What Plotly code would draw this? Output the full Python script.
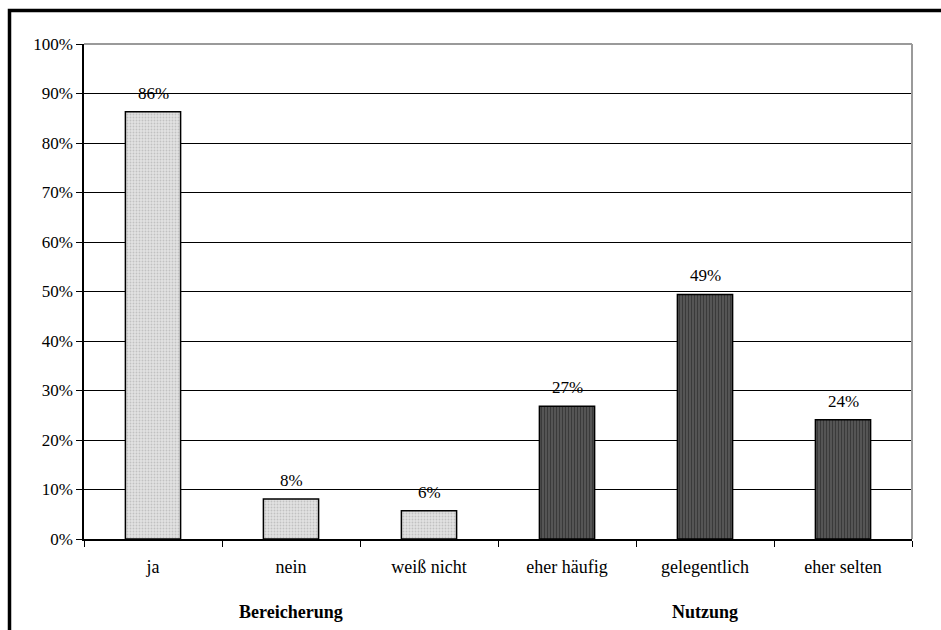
import plotly.graph_objects as go

# Survey results: two question groups shown side by side
categories = ["ja", "nein", "weiß nicht", "eher häufig", "gelegentlich", "eher selten"]
shares = [86.3, 8.1, 5.7, 26.8, 49.4, 24.1]
groups = ["Bereicherung", "Bereicherung", "Bereicherung", "Nutzung", "Nutzung", "Nutzung"]
group_names = ["Bereicherung", "Nutzung"]
y_ticks = [0, 10, 20, 30, 40, 50, 60, 70, 80, 90, 100]
y_tick_labels = [f"{t}%" for t in y_ticks]

FONT = "Liberation Serif"
W, H = 941, 630
L, R, T, B = 84, 29, 44, 91

light = dict(shape=".", fgcolor="#a0a0a0", bgcolor="#e2e2e2", size=3, solidity=0.3)
dark = dict(shape="|", fgcolor="#1a1a1a", bgcolor="#5a5a5a", size=3, solidity=0.45)

fig = go.Figure()
for g, pat in zip(group_names, [light, dark]):
    xs = [c for c, gg in zip(categories, groups) if gg == g]
    ys = [v for v, gg in zip(shares, groups) if gg == g]
    fig.add_trace(go.Bar(
        x=xs, y=ys, width=0.4,
        marker=dict(color=pat["bgcolor"], pattern=pat, line=dict(color="black", width=1.5)),
        showlegend=False, hoverinfo="skip",
    ))

# value labels above each bar
for c, v in zip(categories, shares):
    fig.add_annotation(x=c, y=v, xref="x", yref="y", text=f"{v:.0f}%",
                       showarrow=False, yanchor="bottom", yshift=7,
                       font=dict(family=FONT, size=17, color="black"))

# group captions centred under each block of three categories
pw = W - L - R
ph = H - T - B
for i, g in enumerate(group_names):
    fig.add_annotation(x=(1.5 + 3 * i) / 6, y=-(612 - (H - B)) / ph, xref="paper", yref="paper",
                       text=f"<b>{g}</b>", showarrow=False, xanchor="center", yanchor="middle",
                       font=dict(family=FONT, size=18, color="black"))

# plot-area border (top and right) in gray
fig.add_shape(type="line", xref="paper", yref="paper", x0=0, x1=1, y0=1, y1=1,
              line=dict(color="#9a9a9a", width=2), layer="above")
fig.add_shape(type="line", xref="paper", yref="paper", x0=1, x1=1, y0=0, y1=1,
              line=dict(color="#9a9a9a", width=2), layer="above")

# outer black frame around the whole chart
fig.add_shape(type="rect", xref="paper", yref="paper",
              x0=(9.5 - L) / pw, x1=(W + 10 - L) / pw,
              y0=-(H + 10 - (H - B)) / ph, y1=((H - B) - 10.5) / ph,
              line=dict(color="black", width=3.5), fillcolor="rgba(0,0,0,0)", layer="above")

fig.update_layout(
    width=W, height=H,
    margin=dict(l=L, r=R, t=T, b=B),
    paper_bgcolor="white", plot_bgcolor="white",
    bargap=0.6,
    font=dict(family=FONT, size=17, color="black"),
    xaxis=dict(type="category", categoryorder="array", categoryarray=categories,
               tickson="boundaries", ticks="outside", ticklen=6, tickcolor="black",
               tickwidth=1, showline=True, linecolor="black", linewidth=1.5,
               showgrid=False, ticklabelstandoff=11,
               tickfont=dict(family=FONT, size=18, color="black")),
    yaxis=dict(range=[0, 100], tickmode="array", tickvals=y_ticks, ticktext=y_tick_labels,
               ticks="outside", ticklen=6, tickcolor="black", showline=True,
               linecolor="black", linewidth=1.5, showgrid=True, gridcolor="black",
               gridwidth=1, zeroline=False,
               tickfont=dict(family=FONT, size=17, color="black")),
)

fig.write_html("out.html")
